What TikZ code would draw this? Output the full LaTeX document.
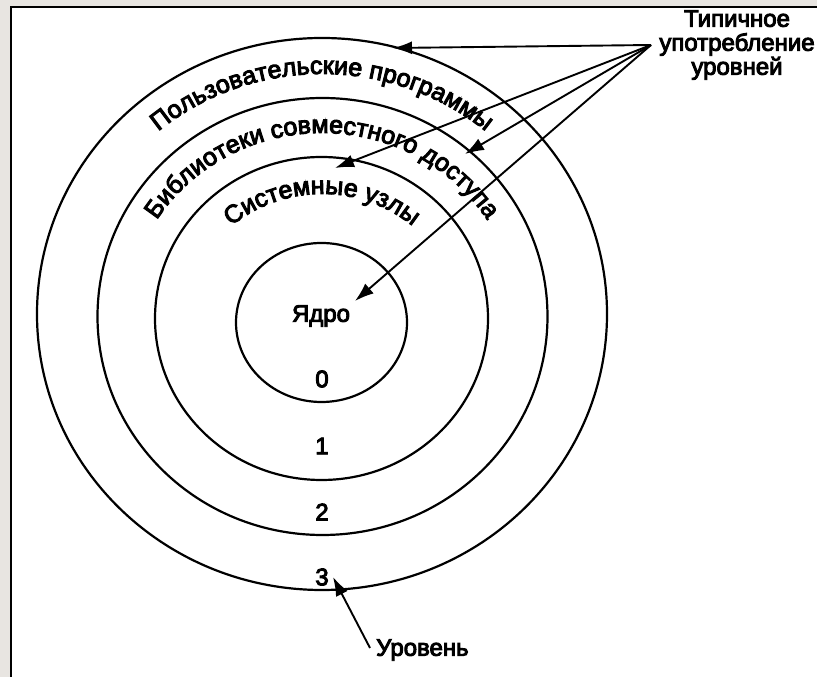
\documentclass[tikz,border=0pt]{standalone}
\usepackage{fontspec}
\setmainfont{Liberation Sans}
\newfontfamily\lblfamily{Liberation Sans}[FakeBold=4]
\usetikzlibrary{arrows.meta,decorations.text,shapes.geometric}
\definecolor{framegray}{HTML}{E8E5E1}
\newcommand{\lblfont}{\lblfamily\fontsize{24}{24}\selectfont}
\newcommand{\arcfont}{\lblfamily\fontsize{25}{25}\selectfont}
\begin{document}
\begin{tikzpicture}[x=1pt,y=1pt,
  ring/.style={draw=black, line width=2.2pt, ellipse, inner sep=0pt},
  lbl/.style={font=\lblfont, inner sep=0pt},
  arr/.style={line width=1.9pt, -{Latex[length=19pt,width=13pt]}},
  curved/.style={decorate, decoration={text along path, text align=center, text={|\arcfont|#1}}}
  ]
\useasboundingbox (0,0) rectangle (817,677);
\fill[framegray] (0,0) rectangle (817,677);
\fill[white] (11,0) rectangle (817,670);
\draw[black, line width=2.4pt] (11.2,0) -- (11.2,669.8) -- (817,669.8);

% rings
\node[ring, minimum width=570pt, minimum height=552pt] (L3) at (322,363) {};
\node[ring, minimum width=450pt, minimum height=437pt] (L2) at (322.5,360.5) {};
\node[ring, minimum width=333pt, minimum height=323pt] (L1) at (321.5,358.5) {};
\node[ring, minimum width=171pt, minimum height=159pt] (L0) at (321.5,354.5) {};

% curved labels
\path[shift={(322,359)}, curved={Пользовательские программы}] (160:254 and 244) arc[start angle=160, end angle=20, x radius=254, y radius=244];
\path[shift={(322,358)}, curved={Библиотеки совместного доступа}] (165:195 and 186) arc[start angle=165, end angle=15, x radius=195, y radius=186];
\path[shift={(322,356)}, curved={Системные узлы}] (155:136 and 127) arc[start angle=155, end angle=25, x radius=136, y radius=127];

% plain labels
\node[lbl] (core) at (321,361) {Ядро};
\node[lbl] (n0) at (322,298) {0};
\node[lbl] (n1) at (322,231) {1};
\node[lbl] (n2) at (322,165) {2};
\node[lbl] (n3) at (322,100) {3};
\node[lbl, align=center, anchor=center] (usage) at (737,632) {Типичное\\употребление\\уровней};
\node[lbl, anchor=west] (level) at (376,27) {Уровень};

% arrows
\coordinate (src) at (651,632);
\coordinate (t1) at (393,629);
\coordinate (t2) at (335,509);
\coordinate (t3) at (465,523);
\coordinate (t4) at (355,376);
\coordinate (lvsrc) at (370,29);
\coordinate (t5) at (333,100);
\draw[arr] (src) -- (t1);
\draw[arr] (src) -- (t2);
\draw[arr] (src) -- (t3);
\draw[arr] (src) -- (t4);
\draw[arr] (lvsrc) -- (t5);
\end{tikzpicture}
\end{document}
